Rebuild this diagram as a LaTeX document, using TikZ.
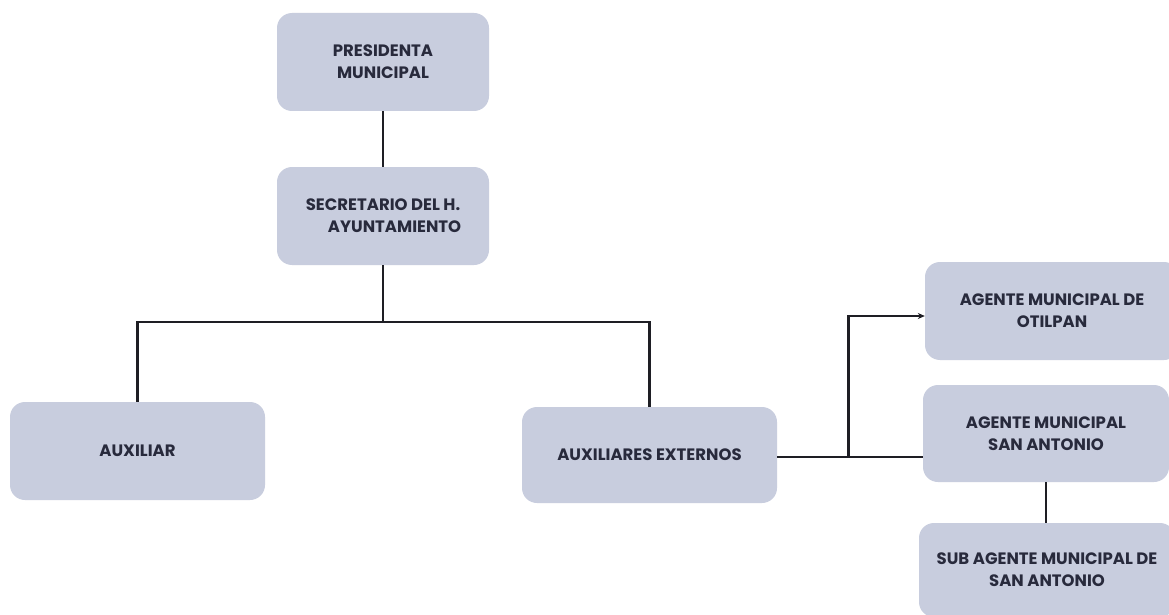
\documentclass[tikz,border=0pt]{standalone}
\usepackage{fontspec}
\setmainfont{Poppins}
\usetikzlibrary{arrows.meta}
\definecolor{boxfill}{RGB}{200,205,222}
\definecolor{boxtext}{RGB}{40,42,60}
\definecolor{linecol}{RGB}{30,30,36}
\begin{document}
\begin{tikzpicture}[x=1pt,y=-1pt,
  orgbox/.style={rectangle, rounded corners=15pt, fill=boxfill, draw=none,
    inner sep=0pt, align=center, text=boxtext,
    font=\fontsize{16.5}{22}\selectfont\bfseries},
  conn/.style={draw=linecol, line width=2.2pt}]
\useasboundingbox (0,0) rectangle (1169,615);
\fill[white] (0,0) rectangle (1169,615);

\node[orgbox, minimum width=212pt, minimum height=98pt] (pres) at (383,62) {PRESIDENTA\\MUNICIPAL};
\node[orgbox, minimum width=212pt, minimum height=98pt] (sec) at (383,216) {SECRETARIO DEL H.\\\hspace*{1.4em}AYUNTAMIENTO};
\node[orgbox, minimum width=255pt, minimum height=98pt] (aux) at (137.5,451) {AUXILIAR};
\node[orgbox, minimum width=255pt, minimum height=96pt] (auxext) at (649.5,455) {AUXILIARES EXTERNOS};
\node[orgbox, minimum width=254pt, minimum height=98pt] (otil) at (1052,311) {AGENTE MUNICIPAL DE\\OTILPAN};
\node[orgbox, minimum width=246pt, minimum height=97pt] (sanant) at (1046,433.5) {AGENTE MUNICIPAL\\SAN ANTONIO};
\node[orgbox, minimum width=256pt, minimum height=94pt] (sub) at (1047,570) {SUB AGENTE MUNICIPAL DE\\SAN ANTONIO};

\coordinate (bus) at (383,322);
\draw[conn] (pres.south) -- (sec.north);
\draw[conn] (sec.south) -- (bus);
\draw[conn] (aux.north) |- (bus) -| (auxext.north);
\draw[conn] ([yshift=-2pt]auxext.east) -- ([yshift=-2pt]auxext.east -| sanant.west) coordinate[pos=0.49] (br);
\draw[conn, -{Stealth[length=7pt,width=6pt]}] (br) |- ([yshift=-5pt]otil.west);
\draw[conn] (sanant.south) -- (sanant.south |- sub.north);
\end{tikzpicture}
\end{document}
